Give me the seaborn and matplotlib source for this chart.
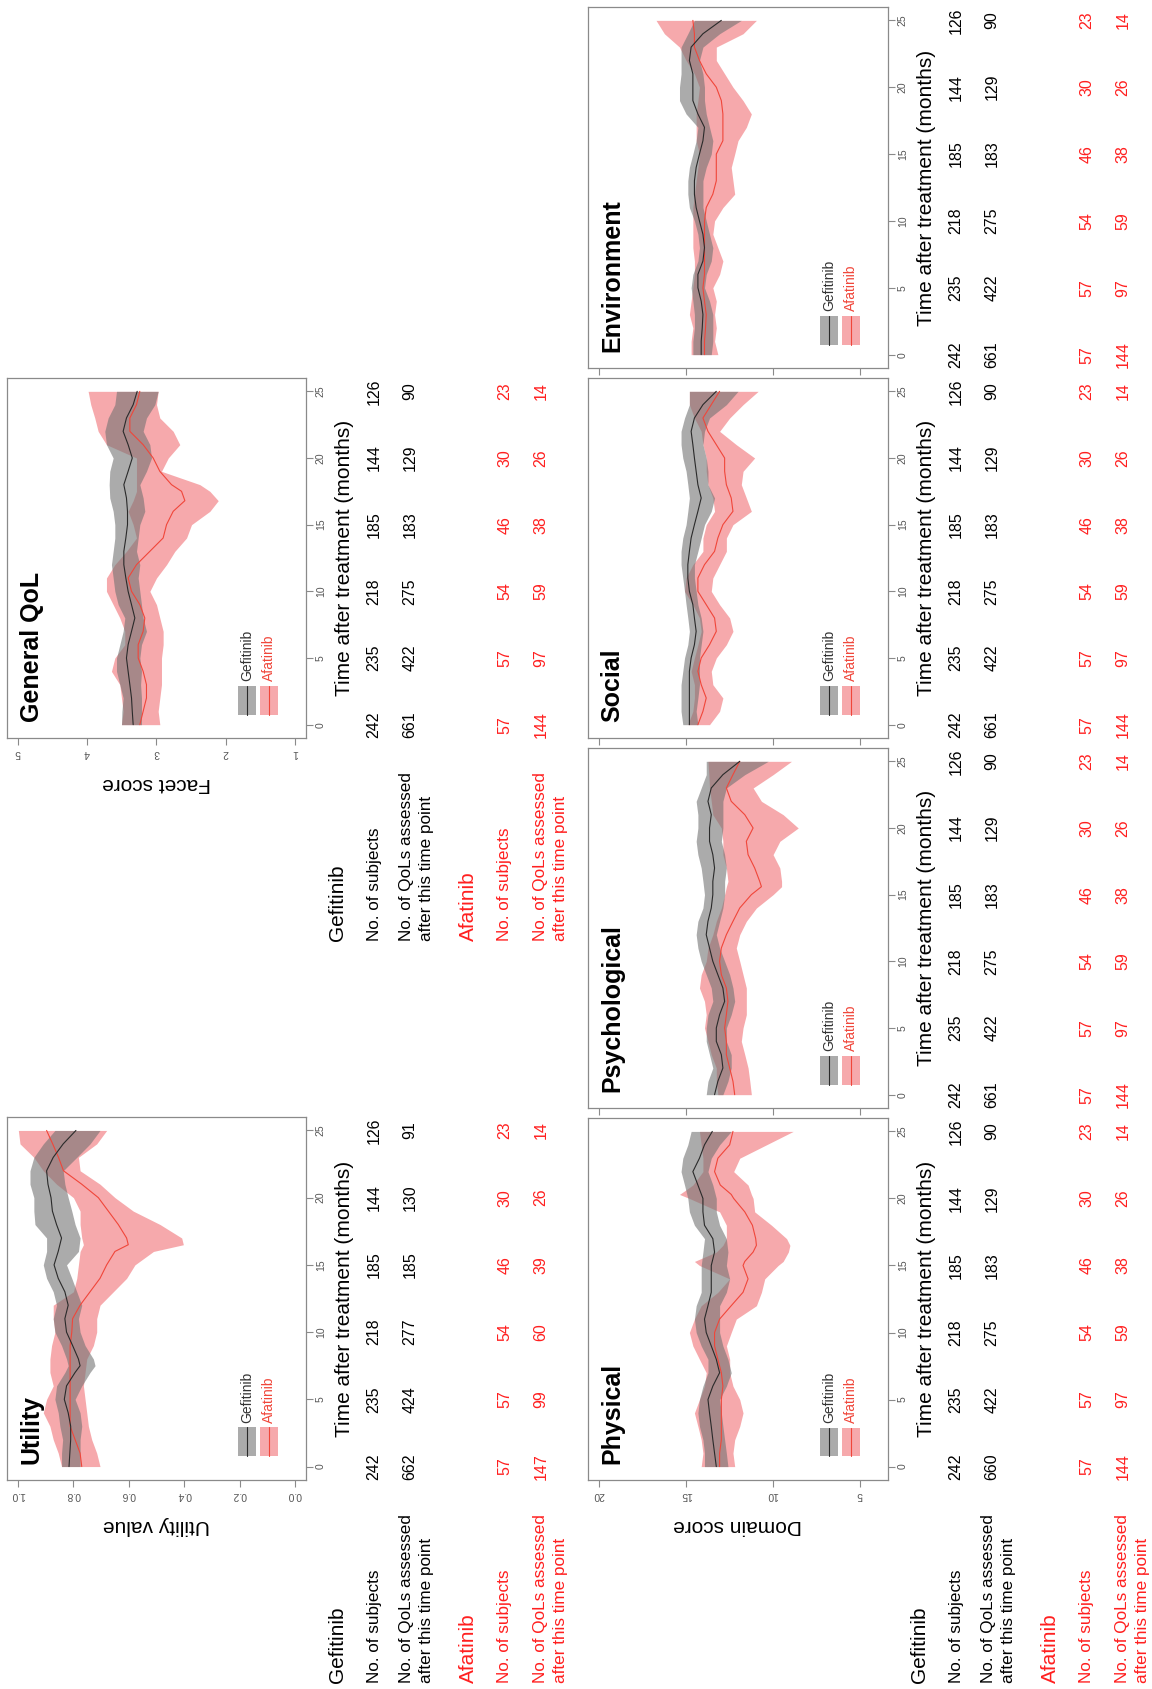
import matplotlib
matplotlib.use("Agg")
import matplotlib.pyplot as plt
import pandas as pd
import seaborn as sns
from matplotlib.patches import Rectangle
from matplotlib.transforms import blended_transform_factory

# ---------------------------------------------------------------- data
MONTHS = list(range(26))
TABLE_MONTHS = [0, 5, 10, 15, 20, 25]

GEF_SUBJECTS = [242, 235, 218, 185, 144, 126]
AFA_SUBJECTS = [57, 57, 54, 46, 30, 23]

ut_gef_qols = [662, 424, 277, 185, 130, 91]
ut_afa_qols = [147, 99, 60, 39, 26, 14]
gq_gef_qols = [661, 422, 275, 183, 129, 90]
gq_afa_qols = [144, 97, 59, 38, 26, 14]
ph_gef_qols = [660, 422, 275, 183, 129, 90]
ph_afa_qols = [144, 97, 59, 38, 26, 14]
dom_gef_qols = [661, 422, 275, 183, 129, 90]
dom_afa_qols = [144, 97, 59, 38, 26, 14]

# Utility
ut_gef_t = [0, 1, 2, 3, 4, 5, 6, 7, 7.5, 8, 9, 10, 11, 12, 13, 14, 15, 16, 17, 18, 19, 20, 21, 22, 23, 24, 25]
ut_gef_mean = [0.816, 0.813, 0.810, 0.810, 0.819, 0.833, 0.825, 0.794, 0.776, 0.782, 0.803, 0.825, 0.831, 0.819,
               0.831, 0.855, 0.870, 0.855, 0.843, 0.861, 0.876, 0.881, 0.892, 0.897, 0.873, 0.837, 0.791]
ut_gef_lo = [0.776, 0.776, 0.776, 0.770, 0.776, 0.794, 0.770, 0.740, 0.722, 0.728, 0.758, 0.776, 0.782, 0.770,
             0.788, 0.806, 0.825, 0.782, 0.776, 0.794, 0.806, 0.819, 0.831, 0.837, 0.788, 0.740, 0.704]
ut_gef_hi = [0.843, 0.843, 0.839, 0.849, 0.855, 0.867, 0.861, 0.831, 0.819, 0.825, 0.843, 0.867, 0.873, 0.861,
             0.873, 0.897, 0.909, 0.897, 0.897, 0.939, 0.943, 0.943, 0.957, 0.957, 0.943, 0.909, 0.867]
ut_afa_t = [0, 1, 2, 3, 4, 5, 6, 7, 8, 9, 10, 11, 12, 13, 14, 15, 16, 16.5, 17, 18, 19, 20, 21, 22, 23, 24, 25]
ut_afa_mean = [0.770, 0.776, 0.794, 0.812, 0.812, 0.812, 0.812, 0.812, 0.812, 0.812, 0.806, 0.803, 0.776, 0.740,
               0.704, 0.680, 0.650, 0.602, 0.608, 0.638, 0.674, 0.710, 0.770, 0.836, 0.854, 0.875, 0.897]
ut_afa_lo = [0.704, 0.716, 0.734, 0.746, 0.752, 0.758, 0.764, 0.758, 0.752, 0.728, 0.716, 0.716, 0.704, 0.656,
             0.608, 0.578, 0.511, 0.403, 0.409, 0.487, 0.584, 0.650, 0.704, 0.776, 0.782, 0.716, 0.680]
ut_afa_hi = [0.843, 0.855, 0.873, 0.885, 0.909, 0.897, 0.873, 0.885, 0.885, 0.879, 0.867, 0.873, 0.873, 0.800,
             0.788, 0.782, 0.776, 0.764, 0.770, 0.776, 0.776, 0.800, 0.861, 0.909, 0.943, 0.993, 0.999]

# General QoL
gq_gef_mean = [3.337, 3.350, 3.361, 3.385, 3.410, 3.434, 3.410, 3.361, 3.313, 3.361, 3.410, 3.443, 3.472,
               3.472, 3.443, 3.419, 3.419, 3.434, 3.472, 3.410, 3.350, 3.410, 3.482, 3.434, 3.337, 3.279]
gq_gef_lo = [3.217, 3.217, 3.217, 3.230, 3.217, 3.241, 3.217, 3.145, 3.193, 3.217, 3.241, 3.265, 3.241,
             3.289, 3.265, 3.241, 3.169, 3.193, 3.241, 3.145, 3.072, 3.096, 3.193, 3.145, 3.024, 2.976]
gq_gef_hi = [3.506, 3.500, 3.482, 3.530, 3.578, 3.578, 3.530, 3.482, 3.458, 3.554, 3.602, 3.626, 3.651,
             3.626, 3.602, 3.602, 3.626, 3.675, 3.684, 3.675, 3.626, 3.723, 3.747, 3.699, 3.602, 3.578]
gq_afa_t = [0, 1, 2, 3, 4, 5, 6, 7, 8, 9, 10, 11, 12, 13, 14, 15, 16, 16.8, 17.5, 18, 19, 20, 21, 22, 23, 24, 25]
gq_afa_mean = [3.241, 3.193, 3.145, 3.145, 3.193, 3.265, 3.265, 3.193, 3.169, 3.241, 3.361, 3.410, 3.289,
               3.096, 2.904, 2.855, 2.759, 2.590, 2.638, 2.783, 2.952, 3.048, 3.193, 3.385, 3.385, 3.289, 3.241]
gq_afa_lo = [2.952, 2.976, 2.952, 2.928, 2.928, 2.928, 2.904, 2.904, 2.952, 3.000, 3.096, 3.000, 2.855,
             2.735, 2.566, 2.494, 2.229, 2.108, 2.229, 2.373, 2.928, 2.830, 2.663, 2.759, 2.952, 3.000, 2.976]
gq_afa_hi = [3.506, 3.482, 3.506, 3.530, 3.651, 3.602, 3.458, 3.458, 3.530, 3.626, 3.723, 3.723, 3.602,
             3.434, 3.289, 3.337, 3.410, 3.337, 3.289, 3.289, 3.289, 3.289, 3.723, 3.843, 3.892, 3.950, 3.988]

# Physical
ph_gef_mean = [13.25, 13.35, 13.45, 13.54, 13.64, 13.73, 13.45, 13.06, 13.25, 13.54, 13.83, 13.93, 13.73,
               13.54, 13.54, 13.54, 13.35, 13.45, 13.93, 14.02, 14.02, 14.31, 14.60, 14.22, 13.93, 13.48]
ph_gef_lo = [12.58, 12.67, 12.77, 12.87, 12.96, 13.06, 12.67, 12.39, 12.58, 12.87, 13.06, 13.06, 13.06,
             12.67, 12.48, 12.67, 12.58, 12.67, 13.06, 13.25, 13.25, 13.45, 13.73, 13.54, 13.06, 12.39]
ph_gef_hi = [13.93, 13.93, 14.02, 14.22, 14.31, 14.22, 14.02, 13.73, 13.73, 14.12, 14.41, 14.51, 14.41,
             14.12, 14.12, 14.12, 14.02, 13.93, 14.51, 14.80, 14.89, 15.08, 15.28, 15.18, 14.89, 14.70]
ph_afa_t = [0, 1, 2, 3, 4, 5, 6, 7, 8, 9, 10, 11, 12, 13, 14, 15, 15.3, 16, 16.5, 17, 18, 19, 20, 20.3,
            21, 22, 23, 24, 25]
ph_afa_mean = [13.06, 13.06, 12.96, 12.96, 12.96, 12.96, 12.87, 12.96, 13.16, 13.35, 13.35, 13.06, 12.39,
               11.71, 11.42, 11.71, 11.61, 11.13, 10.94, 10.98, 11.17, 11.61, 12.25, 12.39, 13.02, 13.35,
               13.16, 12.48, 12.29]
ph_afa_lo = [12.19, 12.29, 12.19, 11.90, 11.71, 11.90, 12.29, 12.48, 12.48, 12.67, 12.39, 12.10, 10.94,
             10.65, 10.46, 9.69, 9.40, 9.10, 9.01, 9.20, 10.07, 11.04, 11.13, 11.23, 11.42, 12.25, 11.90,
             10.36, 8.82]
ph_afa_hi = [14.12, 14.02, 14.12, 14.31, 14.51, 14.22, 13.93, 13.83, 14.22, 14.60, 14.80, 14.51, 14.12,
             13.16, 12.48, 14.22, 14.51, 13.25, 12.87, 12.67, 12.67, 13.06, 14.80, 15.37, 14.60, 14.02,
             14.02, 14.12, 14.22]

# Psychological
ps_gef_mean = [13.35, 13.16, 12.87, 12.96, 13.25, 13.25, 13.06, 12.77, 12.87, 13.16, 13.45, 13.64, 13.83,
               13.73, 13.54, 13.45, 13.45, 13.35, 13.45, 13.64, 13.64, 13.54, 13.73, 13.54, 12.87, 11.90]
ps_gef_lo = [12.87, 12.58, 12.39, 12.39, 12.67, 12.67, 12.39, 12.19, 12.29, 12.48, 12.77, 13.06, 13.25,
             13.06, 12.87, 12.77, 12.77, 12.67, 12.77, 12.96, 12.87, 12.87, 12.87, 12.67, 11.61, 10.26]
ps_gef_hi = [13.83, 13.73, 13.45, 13.64, 13.83, 13.83, 13.73, 13.45, 13.54, 13.83, 14.12, 14.31, 14.41,
             14.31, 14.02, 13.93, 14.02, 14.12, 14.31, 14.41, 14.31, 14.31, 14.41, 14.12, 13.83, 13.83]
ps_afa_t = [0, 1, 2, 3, 4, 5, 6, 7, 8, 9, 10, 11, 12, 13, 14, 15, 15.6, 16, 17, 18, 19, 20, 21, 22, 23, 24, 25]
ps_afa_mean = [12.19, 12.29, 12.48, 12.67, 12.67, 12.77, 12.67, 12.58, 12.67, 12.96, 13.06, 12.96, 12.67,
               12.29, 11.90, 11.23, 10.65, 10.75, 11.04, 11.42, 11.52, 11.13, 11.61, 12.39, 12.67, 12.29, 11.90]
ps_afa_lo = [11.23, 11.32, 11.42, 11.61, 11.81, 11.71, 11.52, 11.52, 11.52, 11.71, 11.90, 12.10, 11.90,
             11.52, 10.94, 9.98, 9.49, 9.49, 9.59, 9.98, 9.59, 8.53, 9.40, 10.65, 11.13, 9.98, 8.92]
ps_afa_hi = [13.16, 13.25, 13.25, 13.54, 13.73, 13.93, 13.83, 13.93, 14.22, 14.12, 13.83, 13.73, 13.45,
             13.25, 12.96, 12.77, 12.67, 12.58, 12.67, 12.87, 12.87, 12.96, 13.45, 13.54, 13.64, 13.68, 13.73]

# Social
so_gef_mean = [14.80, 14.80, 14.80, 14.80, 14.80, 14.70, 14.51, 14.41, 14.51, 14.60, 14.80, 14.89, 14.89,
               14.80, 14.70, 14.51, 14.31, 14.12, 14.31, 14.41, 14.51, 14.60, 14.70, 14.51, 14.02, 13.25]
so_gef_lo = [14.31, 14.41, 14.31, 14.22, 14.22, 14.22, 14.12, 14.02, 14.12, 14.31, 14.41, 14.51, 14.51,
             14.31, 14.12, 13.93, 13.54, 13.35, 13.73, 13.73, 13.83, 14.02, 13.93, 13.64, 12.67, 12.00]
so_gef_hi = [15.18, 15.28, 15.28, 15.28, 15.18, 15.08, 14.89, 14.80, 14.89, 14.99, 15.08, 15.18, 15.28,
             15.28, 15.18, 14.99, 14.89, 14.80, 14.89, 14.99, 15.18, 15.28, 15.28, 15.08, 14.80, 14.80]
so_afa_mean = [14.31, 14.02, 13.83, 14.12, 14.31, 14.12, 13.64, 13.25, 13.35, 13.83, 14.31, 14.31, 13.93,
               13.35, 13.16, 12.87, 12.29, 12.39, 12.67, 12.77, 12.77, 13.25, 13.73, 14.02, 13.54, 13.06]
so_afa_lo = [13.64, 13.06, 12.87, 13.45, 13.54, 13.25, 12.67, 12.29, 12.48, 13.06, 13.54, 13.45, 13.06,
             12.67, 12.67, 12.29, 11.23, 11.52, 11.81, 11.71, 11.04, 12.10, 13.06, 12.48, 11.71, 10.84]
so_afa_hi = [14.89, 14.60, 14.51, 14.51, 14.70, 14.51, 14.31, 14.12, 14.22, 14.60, 15.08, 14.99, 14.60,
             14.02, 14.02, 13.83, 13.35, 13.45, 13.73, 13.83, 13.83, 14.02, 14.12, 14.51, 14.80, 14.80]

# Environment
en_gef_mean = [14.12, 14.12, 14.06, 14.02, 14.12, 14.31, 14.31, 14.02, 13.93, 14.02, 14.22, 14.41, 14.51,
               14.51, 14.41, 14.22, 14.02, 13.93, 14.31, 14.60, 14.60, 14.60, 14.80, 14.70, 14.02, 12.96]
en_gef_lo = [13.54, 13.45, 13.45, 13.45, 13.64, 13.93, 13.83, 13.54, 13.45, 13.64, 13.83, 14.02, 14.02,
             14.02, 13.83, 13.54, 13.45, 13.64, 13.83, 13.93, 13.93, 14.02, 14.22, 14.02, 13.06, 11.81]
en_gef_hi = [14.60, 14.60, 14.51, 14.51, 14.60, 14.70, 14.60, 14.31, 14.22, 14.31, 14.51, 14.80, 14.89,
             14.89, 14.80, 14.60, 14.41, 14.31, 14.99, 15.37, 15.37, 15.28, 15.28, 15.28, 14.89, 14.51]
en_afa_mean = [13.93, 13.93, 13.87, 13.83, 13.93, 14.02, 13.93, 13.93, 13.93, 13.93, 13.93, 13.83, 13.45,
               13.25, 13.25, 13.25, 12.87, 12.87, 12.87, 12.96, 13.25, 13.83, 14.22, 14.51, 14.51, 14.60]
en_afa_lo = [13.16, 13.35, 13.25, 13.35, 13.25, 13.45, 13.06, 12.87, 13.16, 13.45, 13.35, 12.87, 12.19,
             12.29, 12.39, 12.19, 12.00, 11.52, 11.23, 11.71, 12.29, 12.77, 13.25, 13.25, 11.71, 10.94]
en_afa_hi = [14.70, 14.70, 14.60, 14.80, 14.70, 14.60, 14.51, 14.51, 14.60, 14.60, 14.60, 14.60, 14.51,
             14.41, 14.31, 14.22, 14.41, 14.41, 14.41, 14.31, 14.22, 14.51, 14.99, 15.37, 16.24, 16.72]

# ---------------------------------------------------------------- style
sns.set_theme(style="ticks")
plt.rcParams["font.family"] = ["Liberation Sans", "DejaVu Sans"]

W, H = 1152, 1689
fig = plt.figure(figsize=(W / 100, H / 100), dpi=100)

PINK = "#f6a9ac"
GREY = "#737373"
RED_LINE = "#f0463a"
RED_TEXT = "#ff1f1f"
AXIS_GREY = "#8a8a8a"


def px_axes(x0, y0, x1, y1):
    return fig.add_axes([x0 / W, 1 - y1 / H, (x1 - x0) / W, (y1 - y0) / H])


def fx(x):
    return x / W


def fy(y):
    return 1 - y / H


def draw_panel(ax, title, gef, afa, vlim, vticks, vlabels):
    g_t, g_mean, g_lo, g_hi = gef
    a_t, a_mean, a_lo, a_hi = afa
    ax.fill_betweenx(a_t, a_lo, a_hi, color=PINK, lw=0, zorder=1)
    ax.fill_betweenx(g_t, g_lo, g_hi, color=GREY, alpha=0.6, lw=0, zorder=2)
    sns.lineplot(data=pd.DataFrame({"v": a_mean, "t": a_t}), x="v", y="t", orient="y",
                 sort=False, estimator=None, color=RED_LINE, lw=0.8, ax=ax, legend=False, zorder=3)
    sns.lineplot(data=pd.DataFrame({"v": g_mean, "t": g_t}), x="v", y="t", orient="y",
                 sort=False, estimator=None, color="#2a2a2a", lw=0.8, ax=ax, legend=False, zorder=4)
    ax.set_xlabel("")
    ax.set_ylabel("")
    lo, hi = vlim
    pad = 0.04 * (hi - lo)
    ax.set_xlim(hi + pad, lo - pad)
    ax.set_ylim(-1, 26)
    ax.set_xticks(vticks)
    if vlabels:
        ax.set_xticklabels(vlabels, rotation=180)
    else:
        ax.set_xticklabels([])
    ax.yaxis.tick_right()
    ax.set_yticks([0, 5, 10, 15, 20, 25])
    ax.set_yticklabels(["0", "5", "10", "15", "20", "25"], rotation=90, va="center")
    ax.tick_params(axis="both", length=5, width=0.8, color=AXIS_GREY, labelsize=7.5,
                   labelcolor="#555555", pad=2)
    ax.tick_params(axis="y", left=False, right=True)
    ax.tick_params(axis="x", bottom=True, top=False)
    for sp in ax.spines.values():
        sp.set_visible(True)
        sp.set_color(AXIS_GREY)
        sp.set_linewidth(0.9)
    ax.text(0.082, 0.045, title, rotation=90, transform=ax.transAxes, ha="center", va="bottom",
            fontsize=18, fontweight="bold", color="black")
    # legend
    for x0, fc, al, lc in [(0.772, GREY, 0.6, "#2a2a2a"), (0.846, PINK, 1.0, RED_LINE)]:
        ax.add_patch(Rectangle((x0, 0.065), 0.062, 0.08, transform=ax.transAxes,
                               facecolor=fc, alpha=al, lw=0, zorder=5))
        ax.plot([x0 + 0.031, x0 + 0.031], [0.065, 0.145], transform=ax.transAxes,
                color=lc, lw=0.8, zorder=6)
    ax.text(0.803, 0.158, "Gefitinib", rotation=90, transform=ax.transAxes, ha="center",
            va="bottom", fontsize=10, color="#333333")
    ax.text(0.877, 0.158, "Afatinib", rotation=90, transform=ax.transAxes, ha="center",
            va="bottom", fontsize=10, color=RED_LINE)


def draw_counts(ax, box_right, gef_qols, afa_qols):
    trans = blended_transform_factory(fig.transFigure, ax.transData)
    ax.text(fx(box_right + 38), 12.5, "Time after treatment (months)", rotation=90,
            transform=trans, ha="center", va="center", fontsize=15, color="black")
    rows = [(68, GEF_SUBJECTS, "black"), (104, gef_qols, "black"),
            (199, AFA_SUBJECTS, RED_TEXT), (235, afa_qols, RED_TEXT)]
    for dx, vals, col in rows:
        for t, v in zip(TABLE_MONTHS, vals):
            ax.text(fx(box_right + dx), t, str(v), rotation=90, transform=trans,
                    ha="center", va="center", fontsize=11.5, color=col)


def draw_row_labels(box_right, y_start):
    items = [(31, "Gefitinib", 15, "black"), (68, "No. of subjects", 12.3, "black"),
             (101, "No. of QoLs assessed", 12.3, "black"), (121, "after this time point", 12.3, "black"),
             (162, "Afatinib", 15, RED_TEXT), (199, "No. of subjects", 12.3, RED_TEXT),
             (235, "No. of QoLs assessed", 12.3, RED_TEXT), (254, "after this time point", 12.3, RED_TEXT)]
    for dx, txt, fs, col in items:
        fig.text(fx(box_right + dx), fy(y_start), txt, rotation=90, ha="center", va="bottom",
                 fontsize=fs, color=col)


DOMAIN_TICKS = [5, 10, 15, 20]

panels = [
    dict(title="Utility", box=(7, 1117, 306, 1480), vlim=(0, 1),
         vticks=[0, 0.2, 0.4, 0.6, 0.8, 1.0], vlabels=["0.0", "0.2", "0.4", "0.6", "0.8", "1.0"],
         vname="Utility value",
         gef=(ut_gef_t, ut_gef_mean, ut_gef_lo, ut_gef_hi), afa=(ut_afa_t, ut_afa_mean, ut_afa_lo, ut_afa_hi),
         qols=(ut_gef_qols, ut_afa_qols)),
    dict(title="General QoL", box=(7, 378, 306, 738), vlim=(1, 5),
         vticks=[1, 2, 3, 4, 5], vlabels=["1", "2", "3", "4", "5"], vname="Facet score",
         gef=(MONTHS, gq_gef_mean, gq_gef_lo, gq_gef_hi), afa=(gq_afa_t, gq_afa_mean, gq_afa_lo, gq_afa_hi),
         qols=(gq_gef_qols, gq_afa_qols)),
    dict(title="Physical", box=(588, 1118, 888, 1480), vlim=(4, 20),
         vticks=DOMAIN_TICKS, vlabels=["5", "10", "15", "20"], vname="Domain score",
         gef=(MONTHS, ph_gef_mean, ph_gef_lo, ph_gef_hi), afa=(ph_afa_t, ph_afa_mean, ph_afa_lo, ph_afa_hi),
         qols=(ph_gef_qols, ph_afa_qols)),
    dict(title="Psychological", box=(588, 748, 888, 1108), vlim=(4, 20),
         vticks=DOMAIN_TICKS, vlabels=None, vname=None,
         gef=(MONTHS, ps_gef_mean, ps_gef_lo, ps_gef_hi), afa=(ps_afa_t, ps_afa_mean, ps_afa_lo, ps_afa_hi),
         qols=(dom_gef_qols, dom_afa_qols)),
    dict(title="Social", box=(588, 378, 888, 738), vlim=(4, 20),
         vticks=DOMAIN_TICKS, vlabels=None, vname=None,
         gef=(MONTHS, so_gef_mean, so_gef_lo, so_gef_hi), afa=(MONTHS, so_afa_mean, so_afa_lo, so_afa_hi),
         qols=(dom_gef_qols, dom_afa_qols)),
    dict(title="Environment", box=(588, 7, 888, 368), vlim=(4, 20),
         vticks=DOMAIN_TICKS, vlabels=None, vname=None,
         gef=(MONTHS, en_gef_mean, en_gef_lo, en_gef_hi), afa=(MONTHS, en_afa_mean, en_afa_lo, en_afa_hi),
         qols=(dom_gef_qols, dom_afa_qols)),
]

for p in panels:
    x0, y0, x1, y1 = p["box"]
    ax = px_axes(x0, y0, x1, y1)
    draw_panel(ax, p["title"], p["gef"], p["afa"], p["vlim"], p["vticks"], p["vlabels"])
    draw_counts(ax, x1, *p["qols"])
    if p["vname"]:
        fig.text(fx((x0 + x1) / 2), fy(y1 + 45), p["vname"], rotation=180, ha="center",
                 va="center", fontsize=15, color="black")

draw_row_labels(306, 1683)
draw_row_labels(306, 941)
draw_row_labels(888, 1683)

fig.savefig("out.png", dpi=100)
